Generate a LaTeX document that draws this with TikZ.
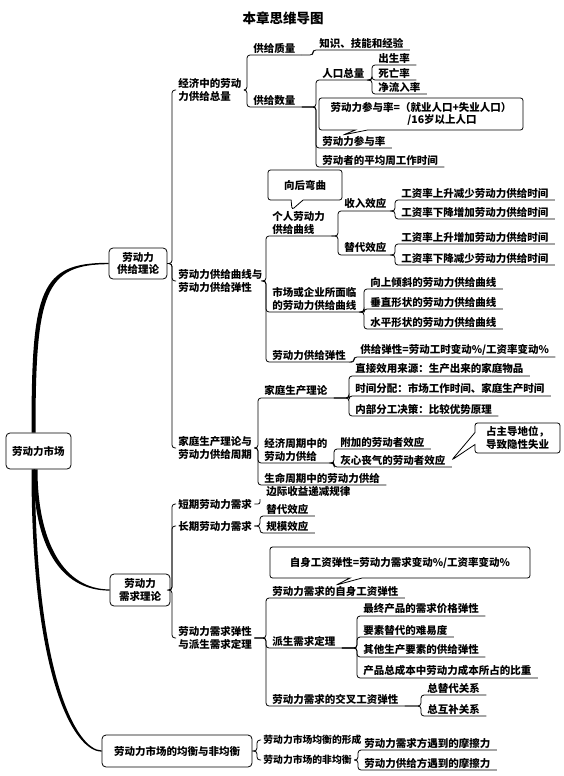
\documentclass[tikz,border=0pt]{standalone}
\usepackage{fontspec}
\setmainfont{Noto Sans CJK SC}
\usetikzlibrary{shapes.callouts}

\tikzset{
	topic/.style={draw, rounded corners=4pt, align=center, inner sep=1pt},
	branch/.style={anchor=west, align=left, inner sep=2pt},
	leaf/.style={anchor=south west, align=left, inner xsep=6pt, inner ysep=1.5pt},
	note/.style={rectangle callout, draw, rounded corners=2.5pt, align=center, callout pointer width=12pt},
	under/.style={rounded corners=3pt, to path={-| (\tikztotarget.south west) -- (\tikztotarget.south east)}},
	hook/.style={rounded corners=3pt, to path={-| ([xshift=-4pt]\tikztotarget.west) -- (\tikztotarget.west)}},
	tick/.style={rounded corners=2pt, to path={-| (\tikztotarget.south west)}}
}

\begin{document}
\begin{tikzpicture}[x=1pt, y=-1pt, line width=0.8pt, font=\fontsize{10.5}{12.5}\selectfont\bfseries]

	\useasboundingbox (0,0) rectangle (563,776);

	\node (title) [font=\fontsize{13.5}{15}\selectfont\bfseries] at (283,18) {本章思维导图};

	% main topics
	\node (root) [topic, minimum width=65pt, minimum height=36pt] at (38.5,451) {劳动力市场};
	\node (sup) [topic, minimum width=58pt, minimum height=31pt] at (138,263.5) {劳动力\\供给理论};
	\node (dem) [topic, minimum width=60pt, minimum height=32pt] at (140,590) {劳动力\\需求理论};
	\node (eq) [topic, minimum width=150pt, minimum height=32pt] at (177,751) {劳动力市场的均衡与非均衡};

	\fill ([xshift=-7pt]root.north) .. controls +(0,-143) and +(-69,0) .. ([yshift=0.7pt]sup.west)
		-- ([yshift=-0.7pt]sup.west) .. controls +(-64,0) and +(0,-140) .. ([xshift=-3pt]root.north) -- cycle;
	\fill ([xshift=-5pt]root.south) .. controls +(0,75) and +(-50,0) .. ([yshift=-0.6pt]dem.west)
		-- ([yshift=0.6pt]dem.west) .. controls +(-46,0) and +(0,72) .. ([xshift=-1pt]root.south) -- cycle;
	\fill ([xshift=-7pt]root.south) .. controls +(0,211) and +(-27,0) .. ([yshift=-0.6pt]eq.west)
		-- ([yshift=0.6pt]eq.west) .. controls +(-25,0) and +(0,205) .. ([xshift=-3.5pt]root.south) -- cycle;

	% supply
	\node (tot) [branch] at (176,90) {经济中的劳动\\力供给总量};
	\node (curve) [branch] at (176,281) {劳动力供给曲线与\\劳动力供给弹性};
	\node (home) [branch] at (176,448) {家庭生产理论与\\劳动力供给周期};

	\node (q1) [leaf] at (247,55) {供给质量};
	\node (k1) [leaf] at (313,50) {知识、技能和经验};
	\node (q2) [leaf] at (247,107) {供给数量};
	\node (p1) [leaf] at (316,80) {人口总量};
	\node (b1) [leaf] at (372,65) {出生率};
	\node (b2) [leaf] at (372,80) {死亡率};
	\node (b3) [leaf] at (372,94) {净流入率};
	\node (p2) [leaf] at (316,148) {劳动力参与率};
	\node (p3) [leaf] at (316,167) {劳动者的平均周工作时间};

	\node (ind) [leaf] at (266,236) {个人劳动力\\供给曲线};
	\node (inc) [leaf] at (338,211) {收入效应};
	\node (i1) [leaf] at (395,200) {工资率上升减少劳动力供给时间};
	\node (i2) [leaf] at (395,219) {工资率下降增加劳动力供给时间};
	\node (sub) [leaf] at (338,255) {替代效应};
	\node (s1) [leaf] at (395,244) {工资率上升增加劳动力供给时间};
	\node (s2) [leaf] at (395,265) {工资率下降减少劳动力供给时间};
	\node (mkt) [leaf] at (266,312) {市场或企业所面临\\的劳动力供给曲线};
	\node (m1) [leaf] at (364,289) {向上倾斜的劳动力供给曲线};
	\node (m2) [leaf] at (364,309) {垂直形状的劳动力供给曲线};
	\node (m3) [leaf] at (364,329) {水平形状的劳动力供给曲线};
	\node (ela) [leaf] at (266,362) {劳动力供给弹性};
	\node (e1) [leaf] at (354,357) {供给弹性=劳动工时变动\%/工资率变动\%};

	\node (hp) [leaf] at (258,398) {家庭生产理论};
	\node (h1) [leaf] at (349,376) {直接效用来源：生产出来的家庭物品};
	\node (h2) [leaf] at (349,396) {时间分配：市场工作时间、家庭生产时间};
	\node (h3) [leaf] at (349,416) {内部分工决策：比较优势原理};
	\node (cyc) [leaf] at (258,463) {经济周期中的\\劳动力供给};
	\node (a1) [leaf] at (334,449) {附加的劳动者效应};
	\node (a2) [leaf] at (334,467) {灰心丧气的劳动者效应};
	\node (life) [leaf] at (258,485) {生命周期中的劳动力供给};

	\node (c1) [note, minimum width=204pt, minimum height=32pt,
		callout absolute pointer={([xshift=27pt,yshift=-1pt]p2.north west)}] at (421,114)
		{劳动力参与率=（就业人口+失业人口）\\\hspace*{4em}/16岁以上人口};
	\node (c2) [note, minimum width=74pt, minimum height=30pt,
		callout absolute pointer={([xshift=26pt]ind.north west)}] at (305,185) {向后弯曲};
	\node (c3) [note, minimum width=85pt, minimum height=30pt,
		callout absolute pointer={(a2.east)}] at (517.5,438) {占主导地位，\\导致隐性失业};

	% demand
	\node (sr) [branch] at (176,504) {短期劳动力需求};
	\node (lr) [branch] at (176,526) {长期劳动力需求};
	\node (del) [branch] at (176,638) {劳动力需求弹性\\与派生需求定理};

	\node (mr) [leaf] at (260,499) {边际收益递减规律};
	\node (ls) [leaf] at (260,516) {替代效应};
	\node (sc) [leaf] at (260,533) {规模效应};
	\node (own) [leaf] at (266,598) {劳动力需求的自身工资弹性};
	\node (der) [leaf] at (266,648) {派生需求定理};
	\node (d1) [leaf] at (357,616) {最终产品的需求价格弹性};
	\node (d2) [leaf] at (357,637) {要素替代的难易度};
	\node (d3) [leaf] at (357,657) {其他生产要素的供给弹性};
	\node (d4) [leaf] at (357,678) {产品总成本中劳动力成本所占的比重};
	\node (crs) [leaf] at (266,706) {劳动力需求的交叉工资弹性};
	\node (x1) [leaf] at (421,695) {总替代关系};
	\node (x2) [leaf] at (421,716) {总互补关系};

	\node (c4) [note, minimum width=260pt, minimum height=31pt,
		callout absolute pointer={([xshift=70pt,yshift=-1pt]own.north west)}] at (400,562.5)
		{自身工资弹性=劳动力需求变动\%/工资率变动\%};

	% equilibrium
	\node (ef) [branch, font=\fontsize{9.8}{11}\selectfont\bfseries] at (261,740) {劳动力市场均衡的形成};
	\node (en) [branch, font=\fontsize{9.8}{11}\selectfont\bfseries] at (261,760) {劳动力市场的非均衡};
	\node (f1) [leaf] at (358,750) {劳动力需求方遇到的摩擦力};
	\node (f2) [leaf] at (358,770) {劳动力供给方遇到的摩擦力};

	\path
	(sup.east) edge[hook] (tot)
	(sup.east) edge[hook] (curve)
	(sup.east) edge[hook] (home)
	(tot.east) edge[under] (q1)
	(tot.east) edge[under] (q2)
	(q1.south east) edge[under] (k1)
	(q2.south east) edge[under] (p1)
	(q2.south east) edge[under] (p2)
	(q2.south east) edge[under] (p3)
	(p1.south east) edge[under] (b1)
	(p1.south east) edge[under] (b2)
	(p1.south east) edge[under] (b3)
	(curve.east) edge[under] (ind)
	(curve.east) edge[under] (mkt)
	(curve.east) edge[under] (ela)
	(ind.south east) edge[under] (inc)
	(ind.south east) edge[under] (sub)
	(inc.south east) edge[under] (i1)
	(inc.south east) edge[under] (i2)
	(sub.south east) edge[under] (s1)
	(sub.south east) edge[under] (s2)
	(mkt.south east) edge[under] (m1)
	(mkt.south east) edge[under] (m2)
	(mkt.south east) edge[under] (m3)
	(ela.south east) edge[under] (e1)
	(home.east) edge[under] (hp)
	(home.east) edge[under] (cyc)
	(home.east) edge[under] (life)
	(hp.south east) edge[under] (h1)
	(hp.south east) edge[under] (h2)
	(hp.south east) edge[under] (h3)
	(cyc.south east) edge[under] (a1)
	(cyc.south east) edge[under] (a2)
	(dem.east) edge[hook] (sr)
	(dem.east) edge[hook] (lr)
	(dem.east) edge[hook] (del)
	(sr.east) edge[tick] (mr)
	(lr.east) edge[under] (ls)
	(lr.east) edge[under] (sc)
	(del.east) edge[under] (own)
	(del.east) edge[under] (der)
	(del.east) edge[under] (crs)
	(der.south east) edge[under] (d1)
	(der.south east) edge[under] (d2)
	(der.south east) edge[under] (d3)
	(der.south east) edge[under] (d4)
	(crs.south east) edge[under] (x1)
	(crs.south east) edge[under] (x2)
	(eq.east) edge[hook] (ef)
	(eq.east) edge[hook] (en)
	(en.east) edge[under] (f1)
	(en.east) edge[under] (f2);

\end{tikzpicture}
\end{document}
